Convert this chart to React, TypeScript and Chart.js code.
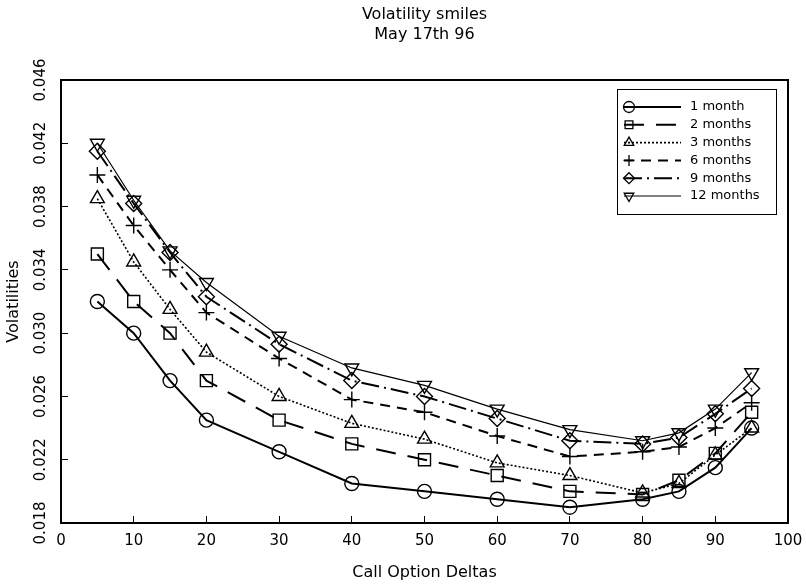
import React, { useEffect, useRef } from 'react';
import { Chart, registerables } from 'chart.js';
import { drawPoint } from 'chart.js/helpers';

Chart.register(...registerables);

const FONT = 'DejaVu Sans';

const deltas = [5, 10, 15, 20, 30, 40, 50, 60, 70, 80, 85, 90, 95];
const oneMonth = [0.032, 0.03, 0.027, 0.0245, 0.0225, 0.0205, 0.02, 0.0195, 0.019, 0.0195, 0.02, 0.0215, 0.024];
const twoMonths = [0.035, 0.032, 0.03, 0.027, 0.0245, 0.023, 0.022, 0.021, 0.02, 0.0198, 0.0207, 0.0224, 0.025];
const threeMonths = [0.0385, 0.0345, 0.0315, 0.0288, 0.026, 0.0243, 0.0233, 0.0218, 0.021, 0.0199, 0.0205, 0.0223, 0.024];
const sixMonths = [0.04, 0.0368, 0.034, 0.0313, 0.0284, 0.0258, 0.025, 0.0235, 0.0222, 0.0225, 0.0228, 0.024, 0.0256];
const nineMonths = [0.0415, 0.0382, 0.0351, 0.0323, 0.0293, 0.027, 0.026, 0.0246, 0.0232, 0.023, 0.0234, 0.0249, 0.0265];
const twelveMonths = [0.042, 0.0384, 0.0352, 0.0332, 0.0298, 0.0278, 0.0267, 0.0252, 0.0239, 0.0232, 0.0237, 0.0252, 0.0275];

const seriesLabels = ['1 month', '2 months', '3 months', '6 months', '9 months', '12 months'];
const titleLines = ['Volatility smiles', 'May 17th 96'];
const xTitle = 'Call Option Deltas';
const yTitle = 'Volatilities';

const styles = [
  { pointStyle: 'circle', rotation: 0, radius: 7, dash: [] as number[], width: 2 },
  { pointStyle: 'rect', rotation: 0, radius: 8.5, dash: [20, 12], width: 2 },
  { pointStyle: 'triangle', rotation: 0, radius: 8, dash: [2, 2], width: 1.6 },
  { pointStyle: 'cross', rotation: 0, radius: 8, dash: [10, 7], width: 2 },
  { pointStyle: 'rectRot', rotation: 0, radius: 8, dash: [18, 5, 2, 5], width: 2 },
  { pointStyle: 'triangle', rotation: 180, radius: 8, dash: [] as number[], width: 1.2 },
];

const seriesValues = [oneMonth, twoMonths, threeMonths, sixMonths, nineMonths, twelveMonths];

const framePlugin = {
  id: 'frame',
  afterDraw(chart: any) {
    const { ctx, chartArea } = chart;
    ctx.save();
    ctx.strokeStyle = '#000';
    ctx.lineWidth = 2;
    ctx.strokeRect(chartArea.left, chartArea.top, chartArea.right - chartArea.left, chartArea.bottom - chartArea.top);
    ctx.restore();
  },
};

const boxLegendPlugin = {
  id: 'boxLegend',
  afterDraw(chart: any) {
    const ctx = chart.ctx;
    ctx.save();
    ctx.strokeStyle = '#000';
    ctx.fillStyle = '#000';
    ctx.lineWidth = 1;
    ctx.setLineDash([]);
    ctx.strokeRect(617.5, 89.5, 159, 125);
    chart.data.datasets.forEach((ds: any, i: number) => {
      const y = 107 + i * 17.8;
      ctx.strokeStyle = '#000';
      ctx.lineWidth = ds.borderWidth;
      ctx.setLineDash(ds.borderDash || []);
      ctx.beginPath();
      ctx.moveTo(624, y);
      ctx.lineTo(681, y);
      ctx.stroke();
      ctx.setLineDash([]);
      ctx.lineWidth = 1.3;
      ctx.fillStyle = 'rgba(0,0,0,0)';
      drawPoint(ctx, { pointStyle: ds.pointStyle, rotation: ds.pointRotation || 0, radius: 5.5, borderWidth: 1.3 } as any, 629, y);
      ctx.fillStyle = '#000';
      ctx.font = `13px "${FONT}"`;
      ctx.textBaseline = 'middle';
      ctx.textAlign = 'left';
      ctx.fillText(ds.label, 690, y);
    });
    ctx.restore();
  },
};

export default function App() {
  const ref = useRef<HTMLCanvasElement | null>(null);
  useEffect(() => {
    if (!ref.current) return;
    const datasets = seriesValues.map((vals, i) => ({
      label: seriesLabels[i],
      data: deltas.map((d, j) => ({ x: d, y: vals[j] })),
      borderColor: '#000',
      backgroundColor: 'rgba(0,0,0,0)',
      borderWidth: styles[i].width,
      borderDash: styles[i].dash,
      pointStyle: styles[i].pointStyle,
      pointRotation: styles[i].rotation,
      pointRadius: styles[i].radius,
      pointBorderWidth: 1.4,
      pointBorderColor: '#000',
      pointBackgroundColor: 'rgba(0,0,0,0)',
      tension: 0,
      fill: false,
    }));
    const chart = new Chart(ref.current, {
      type: 'line',
      data: { datasets },
      options: {
        animation: false,
        responsive: true,
        maintainAspectRatio: false,
        layout: { padding: { left: 0, right: 18, top: 0, bottom: 0 } },
        plugins: {
          legend: { display: false },
          tooltip: { enabled: false },
          title: {
            display: true,
            text: titleLines,
            color: '#000',
            fullSize: false,
            font: { family: FONT, size: 16, weight: 'normal', lineHeight: 1.3 },
            padding: { top: 4, bottom: 34.4 },
          },
        },
        scales: {
          x: {
            type: 'linear',
            min: 0,
            max: 100,
            border: { display: false },
            grid: { display: true, drawOnChartArea: false, drawTicks: true, tickLength: -7, color: '#000', lineWidth: 1 },
            ticks: { stepSize: 10, autoSkip: false, color: '#000', padding: 16, maxRotation: 0, font: { family: FONT, size: 15 } },
            title: { display: true, text: xTitle, color: '#000', font: { family: FONT, size: 16 }, padding: { top: 0, bottom: 3 } },
            afterFit: (s: any) => { s.height = 62; s.paddingLeft = 0; s.paddingRight = 0; },
          },
          y: {
            type: 'linear',
            min: 0.018,
            max: 0.046,
            border: { display: false },
            grid: { display: true, drawOnChartArea: false, drawTicks: true, tickLength: -7, color: '#000', lineWidth: 1 },
            ticks: {
              stepSize: 0.004,
              autoSkip: false,
              color: '#000',
              padding: 5,
              minRotation: 90,
              maxRotation: 90,
              crossAlign: 'center',
              font: { family: FONT, size: 15 },
              callback: (v: any) => Number(v).toFixed(3),
            },
            title: { display: true, text: yTitle, color: '#000', font: { family: FONT, size: 16 }, padding: { top: 4, bottom: 0 } },
            afterFit: (s: any) => { s.width = 61; s.paddingTop = 0; s.paddingBottom = 0; },
          },
        },
      } as any,
      plugins: [framePlugin, boxLegendPlugin],
    });
    return () => chart.destroy();
  }, []);
  return (
    <div style={{ position: 'fixed', left: 0, top: 0, width: 806, height: 585, background: '#fff' }}>
      <canvas ref={ref} />
    </div>
  );
}
